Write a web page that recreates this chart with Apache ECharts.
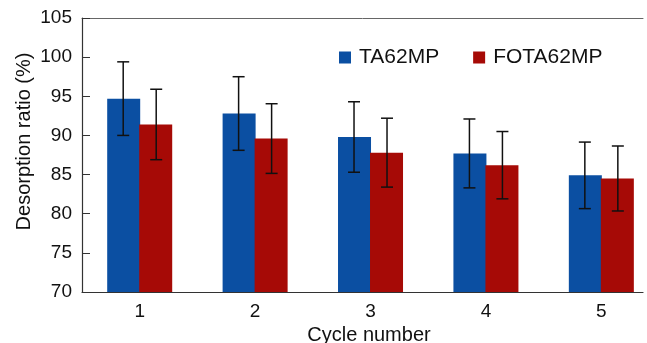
<!DOCTYPE html>
<html>
<head>
<meta charset="utf-8">
<script src="https://cdn.jsdelivr.net/npm/echarts@6/dist/echarts.min.js"></script>
<style>
  html, body { margin: 0; padding: 0; background: #fff; }
  #chart { width: 647px; height: 343px; }
</style>
</head>
<body>
<div id="chart"></div>
<script>
// cycles and measured desorption ratios (%), with error half-widths
const cycles = [1, 2, 3, 4, 5];
const ta62mp = [94.7, 92.8, 89.8, 87.7, 84.9];
const ta62mpErr = [4.7, 4.7, 4.5, 4.4, 4.25];
const fota62mp = [91.4, 89.6, 87.8, 86.2, 84.5];
const fota62mpErr = [4.5, 4.45, 4.4, 4.3, 4.15];
const yTicks = [70, 75, 80, 85, 90, 95, 100, 105];

(function () {
  const chart = echarts.init(document.getElementById('chart'));
  const font = 'Liberation Sans, Arial, Helvetica, sans-serif';
  const barW = 33;

  const pairs = vals => cycles.map((c, i) => [c, vals[i]]);
  const errData = (vals, errs) => cycles.map((c, i) => [c, vals[i] - errs[i], vals[i] + errs[i]]);

  function errorBar(offset) {
    return function (params, api) {
      const lo = api.coord([api.value(0), api.value(1)]);
      const hi = api.coord([api.value(0), api.value(2)]);
      const x = lo[0] + offset;
      const cap = 6;
      const style = { stroke: '#111', lineWidth: 1.5 };
      return {
        type: 'group',
        children: [
          { type: 'line', shape: { x1: x, y1: hi[1], x2: x, y2: lo[1] }, style },
          { type: 'line', shape: { x1: x - cap, y1: hi[1], x2: x + cap, y2: hi[1] }, style },
          { type: 'line', shape: { x1: x - cap, y1: lo[1], x2: x + cap, y2: lo[1] }, style }
        ]
      };
    };
  }

  chart.setOption({
    backgroundColor: '#fff',
    animation: false,
    textStyle: { fontFamily: font },
    grid: { left: 82, top: 18, right: 4, bottom: 51, outerBoundsMode: 'none', containLabel: false },
    legend: {
      left: 339,
      top: 47,
      padding: 0,
      itemWidth: 12,
      itemHeight: 12,
      itemGap: 34,
      icon: 'rect',
      textStyle: { fontSize: 21, color: '#111', fontFamily: font, padding: [0, 0, 0, 3] },
      data: ['TA62MP', 'FOTA62MP']
    },
    xAxis: [{
      type: 'value',
      min: 0.5,
      max: 5.361,
      name: 'Cycle number',
      nameLocation: 'middle',
      nameGap: 33,
      nameMoveOverlap: false,
      nameTextStyle: { fontSize: 20, color: '#111', padding: [0, 0, 0, 13] },
      axisLine: { show: true, lineStyle: { color: '#333', width: 1.2 } },
      axisTick: { show: false },
      splitLine: { show: false },
      axisLabel: {
        customValues: cycles,
        fontSize: 19,
        color: '#111',
        margin: 10
      }
    }, {
      type: 'value',
      position: 'top',
      min: 0.5,
      max: 5.361,
      axisLine: { show: true, onZero: false, lineStyle: { color: '#666', width: 1 } },
      axisTick: { show: false },
      axisLabel: { show: false },
      splitLine: { show: false }
    }],
    yAxis: {
      type: 'value',
      min: 70,
      max: 105,
      interval: 5,
      name: 'Desorption ratio (%)',
      nameLocation: 'middle',
      nameGap: 48,
      nameMoveOverlap: false,
      nameTextStyle: { fontSize: 20, color: '#111', padding: [0, 0, 0, 27] },
      axisLine: { show: true, lineStyle: { color: '#333', width: 1.2 } },
      axisTick: { show: true, inside: true, length: 8, lineStyle: { color: '#333' } },
      splitLine: { show: false },
      axisLabel: {
        fontSize: 19,
        color: '#111',
        margin: 10,
        formatter: v => (yTicks.includes(v) ? String(v) : '')
      }
    },
    series: [
      {
        name: 'TA62MP',
        type: 'bar',
        barWidth: barW,
        barGap: '-3%',
        data: pairs(ta62mp),
        itemStyle: { color: '#0b4fa2' }
      },
      {
        name: 'FOTA62MP',
        type: 'bar',
        barWidth: barW,
        barGap: '-3%',
        data: pairs(fota62mp),
        itemStyle: { color: '#a60a06' }
      },
      {
        type: 'custom',
        renderItem: errorBar(-barW / 2),
        encode: { x: 0, y: [1, 2] },
        data: errData(ta62mp, ta62mpErr),
        z: 10
      },
      {
        type: 'custom',
        renderItem: errorBar(barW / 2),
        encode: { x: 0, y: [1, 2] },
        data: errData(fota62mp, fota62mpErr),
        z: 10
      }
    ]
  });

  window.addEventListener('resize', () => chart.resize());
})();
</script>
</body>
</html>
